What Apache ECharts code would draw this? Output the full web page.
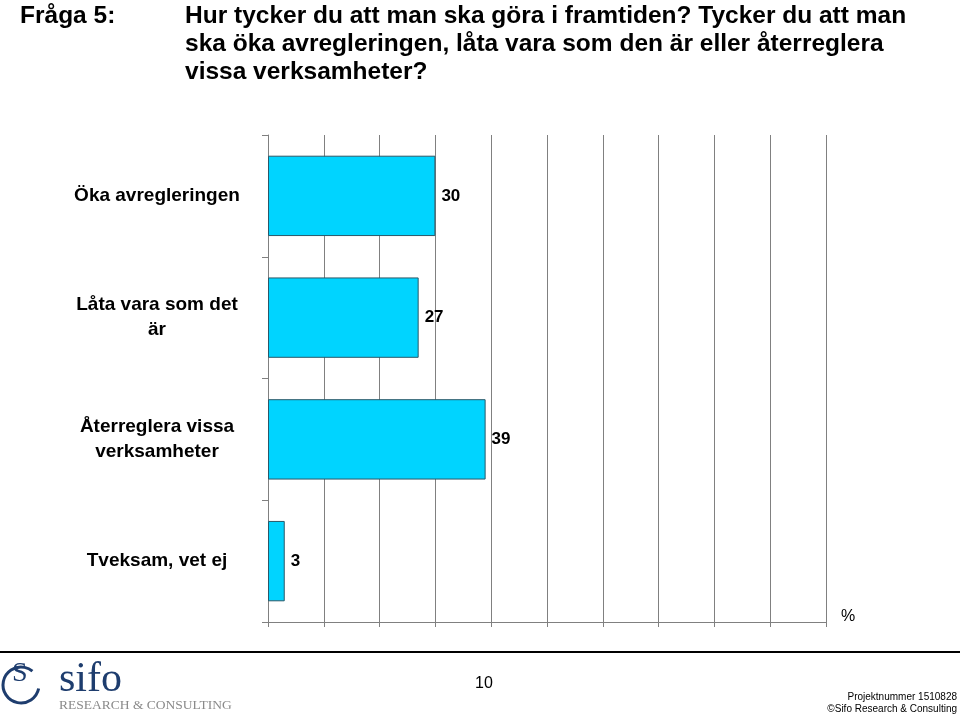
<!DOCTYPE html>
<html><head><meta charset="utf-8">
<script src="https://cdn.jsdelivr.net/npm/echarts@6/dist/echarts.min.js"></script>
<style>html,body{margin:0;padding:0;background:#fff}#c{width:960px;height:715px}</style>
</head><body><div id="c"></div>
<script>
const categories = ['Öka avregleringen', 'Låta vara som det\när', 'Återreglera vissa\nverksamheter', 'Tveksam, vet ej'];
const values = [30, 27, 39, 3];
const axisMax = 100;
const axisStep = 10;

const chart = echarts.init(document.getElementById('c'));
const FONT = "'Liberation Sans', Arial, sans-serif";
chart.setOption({
  animation: false,
  backgroundColor: '#fff',
  grid: { left: 268, right: 134, top: 135, bottom: 93, containLabel: false },
  xAxis: {
    type: 'value', min: 0, max: axisMax, interval: axisStep,
    axisLabel: { show: false },
    axisLine: { show: true, lineStyle: { color: '#808080', width: 1 } },
    axisTick: { show: true, length: 5, lineStyle: { color: '#808080' } },
    splitLine: { show: true, lineStyle: { color: '#808080', width: 1 } }
  },
  yAxis: {
    type: 'category', data: categories, inverse: true,
    axisLine: { show: true, lineStyle: { color: '#808080', width: 1 } },
    axisTick: { show: true, length: 6, alignWithLabel: false, lineStyle: { color: '#808080' } },
    axisLabel: { margin: 111, align: 'center', fontFamily: FONT, fontWeight: 'bold', fontSize: 19, color: '#000', lineHeight: 25 }
  },
  series: [{
    type: 'bar', data: values, barCategoryGap: '34%',
    itemStyle: { color: '#00d4ff', borderColor: '#2a5868', borderWidth: 1 },
    label: { show: true, position: 'right', distance: 6, fontFamily: FONT, fontWeight: 'bold', fontSize: 17, color: '#000' }
  }],
  graphic: [
    { type: 'text', left: 20, top: 2, style: { text: 'Fråga 5:', font: "bold 24.5px " + FONT, lineHeight: 28, fill: '#000' } },
    { type: 'text', left: 185, top: 2, style: { text: 'Hur tycker du att man ska göra i framtiden? Tycker du att man\nska öka avregleringen, låta vara som den är eller återreglera\nvissa verksamheter?', font: "bold 24.5px " + FONT, lineHeight: 28, fill: '#000' } },
    { type: 'text', left: 841, top: 609, style: { text: '%', font: "16px " + FONT, fill: '#000' } },
    { type: 'line', shape: { x1: 0, y1: 652, x2: 960, y2: 652 }, style: { stroke: '#000', lineWidth: 2 } },
    { type: 'text', left: 475, top: 676, style: { text: '10', font: "16px " + FONT, fill: '#000' } },
    { type: 'text', right: 3, top: 692, style: { text: 'Projektnummer 1510828', font: "10px " + FONT, fill: '#000', align: 'right' } },
    { type: 'text', right: 3, top: 704, style: { text: '©Sifo Research & Consulting', font: "10px " + FONT, fill: '#000', align: 'right' } },
    { type: 'arc', shape: { cx: 21, cy: 685, r: 18, startAngle: 0.2, endAngle: 5.4 }, style: { stroke: '#1e3d6e', lineWidth: 3, fill: null } },
    { type: 'text', left: 12, top: 660, style: { text: 'S', font: "28px 'Liberation Serif', serif", fill: '#1e3d6e' } },
    { type: 'text', left: 59, top: 659, style: { text: 'sifo', font: "42px 'Liberation Serif', serif", fill: '#1e3d6e' } },
    { type: 'text', left: 59, top: 698, style: { text: 'RESEARCH & CONSULTING', font: "13.5px 'Liberation Serif', serif", fill: '#8a8a8a' } }
  ]
});
</script></body></html>
